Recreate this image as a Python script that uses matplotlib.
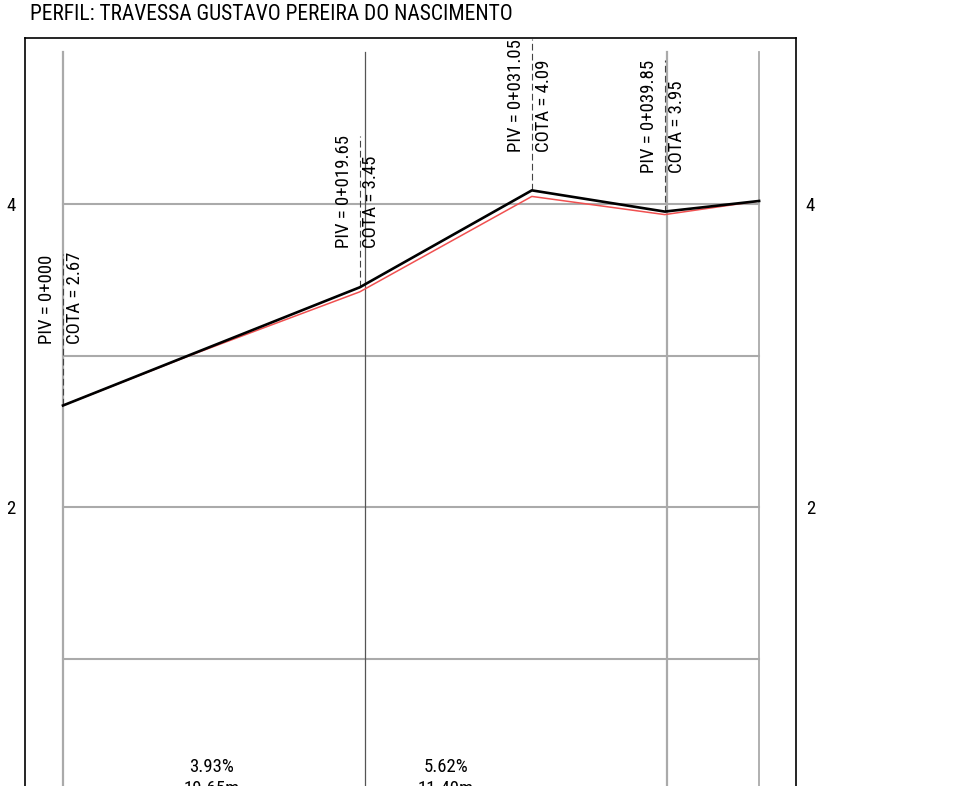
import matplotlib
import matplotlib.pyplot as plt
import numpy as np

matplotlib.rcParams['font.family'] = ['Roboto Condensed', 'Liberation Sans', 'DejaVu Sans']

# dados do perfil
estacas = [0, 19.65, 31.05, 39.85, 46.1]
cotas = [2.67, 3.45, 4.09, 3.95, 4.02]
piv_txt = ["PIV = 0+000", "PIV = 0+019.65", "PIV = 0+031.05", "PIV = 0+039.85"]
cota_txt = ["COTA = 2.67", "COTA = 3.45", "COTA = 4.09", "COTA = 3.95"]

terreno_x = [0, 8.4, 19.65, 31.05, 39.85, 46.1]
terreno_y = [2.67, 3.00, 3.42, 4.05, 3.93, 4.02]

rampas = ["3.93%", "5.62%"]
extensoes = ["19.65m", "11.40m"]

grade_x = [0, 20, 40]
grade_y = [1, 2, 3, 4]

W, H = 955, 786
fig = plt.figure(figsize=(W / 100, H / 100), dpi=100)

# escala: 15.1 px/m horizontal, 151.5 px/m vertical
px_x, px_y = 15.1, 151.5
x0_px, y4_px = 63, 204
esq, dir_, topo, base = 25, 796, 38, 830
ax = fig.add_axes([esq / W, 1 - base / H, (dir_ - esq) / W, (base - topo) / H])
ax.set_xlim((esq - x0_px) / px_x, (dir_ - x0_px) / px_x)
ax.set_ylim(4 - (base - y4_px) / px_y, 4 + (y4_px - topo) / px_y)

fim = estacas[-1]
topo_grade = 4 + (y4_px - 52) / px_y
y_min = ax.get_ylim()[0]

for gy in grade_y:
    ax.plot([0, fim], [gy, gy], color='#aaaaaa', lw=1.5, zorder=1)
for gx in grade_x:
    cor = '#555555' if gx == 20 else '#aaaaaa'
    lw = 0.9 if gx == 20 else 1.6
    ax.plot([gx, gx], [y_min, topo_grade], color=cor, lw=lw, zorder=1)
ax.plot([fim, fim], [y_min, topo_grade], color='#aaaaaa', lw=1.3, zorder=1)

ax.plot(terreno_x, terreno_y, color='#f05050', lw=1.1, zorder=3)
ax.plot(estacas, cotas, color='black', lw=1.9, zorder=4)

gap = [61, 39, 38, 39]
for i in range(len(piv_txt)):
    x, c = estacas[i], cotas[i]
    ax.plot([x, x], [c, c + 1.0], color='#444444', lw=0.8, ls=(0, (6, 3)), zorder=2)
    ax.annotate(piv_txt[i], (x, c), xytext=(-5, gap[i] * 0.72), textcoords='offset points',
                rotation=90, ha='right', va='bottom', fontsize=13.5)
    ax.annotate(cota_txt[i], (x, c), xytext=(2, gap[i] * 0.72), textcoords='offset points',
                rotation=90, ha='left', va='bottom', fontsize=13.5)

for i in range(len(rampas)):
    meio = (estacas[i] + estacas[i + 1]) / 2
    ax.text(meio, 0.284, rampas[i], ha='center', va='center', fontsize=13.5)
    ax.text(meio, 0.14, extensoes[i], ha='center', va='center', fontsize=13.5)

ax.set_yticks([2, 4])
ax.set_xticks([])
ax.tick_params(axis='y', length=0, pad=7, labelsize=13.5, labelright=True)
for s in ax.spines.values():
    s.set_linewidth(1.2)

fig.text(30 / W, 1 - 15 / H, "PERFIL: TRAVESSA GUSTAVO PEREIRA DO NASCIMENTO",
         ha='left', va='center', fontsize=15.5)

plt.savefig("out.png", dpi=100)
